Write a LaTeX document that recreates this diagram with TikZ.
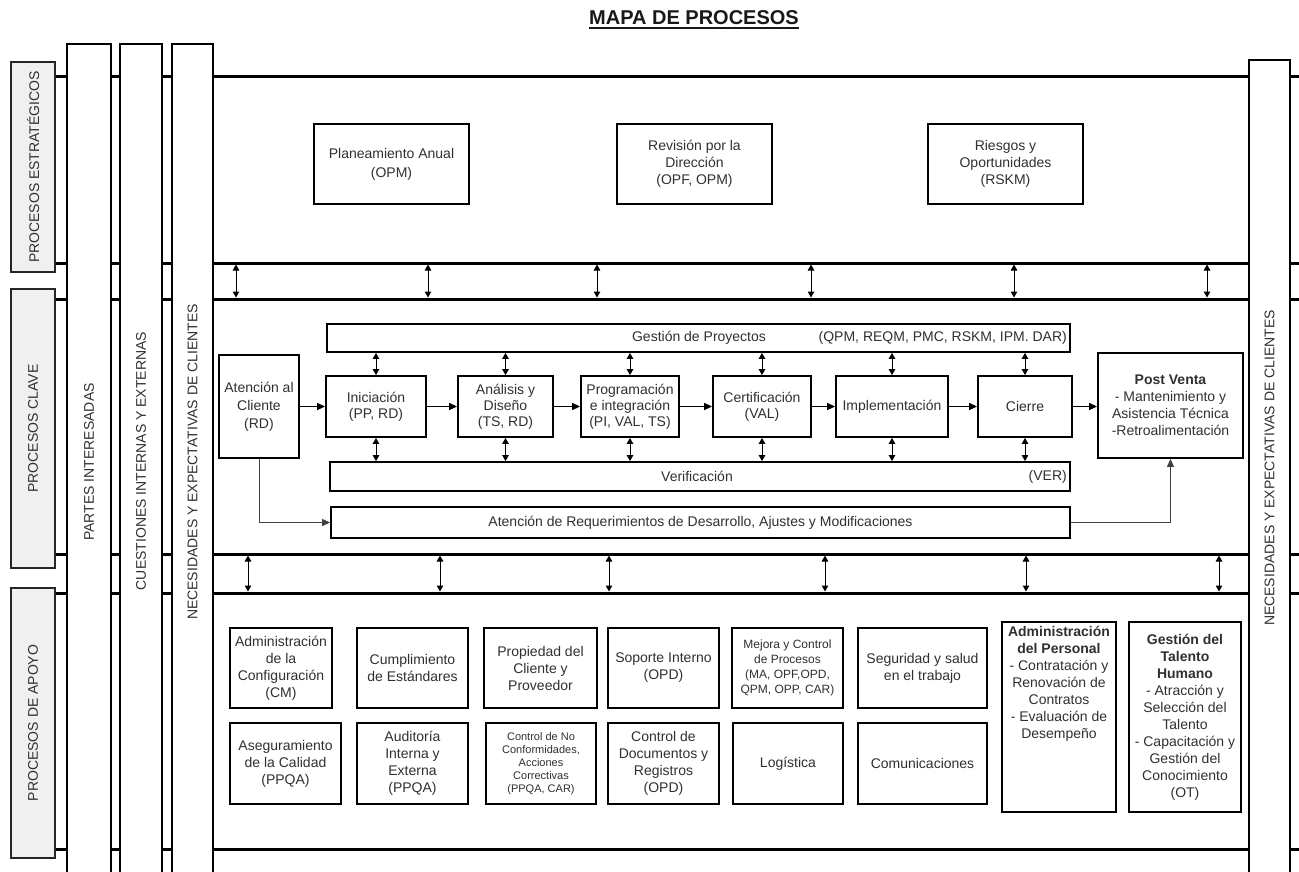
\documentclass[tikz,border=0pt]{standalone}
\usepackage{fontspec}
\setmainfont{Liberation Sans}
\usetikzlibrary{arrows.meta}
\definecolor{txt}{HTML}{303030}
\definecolor{lblfill}{HTML}{F0F0F0}
\newcommand\myfs[2]{\fontsize{#1}{#2}\selectfont}
\begin{document}
\begin{tikzpicture}[x=1pt,y=-1pt,
  thickline/.style={line width=3pt, draw=black},
  colbox/.style={draw=black, line width=1.5pt, fill=white},
  lab/.style={draw=black!85, line width=1.8pt, fill=lblfill, rotate=90, text=txt, font=\myfs{14}{17}, inner sep=0pt},
  vtext/.style={rotate=90, text=txt, font=\myfs{14}{17}, inner sep=0pt},
  box/.style={draw=black, line width=1.8pt, fill=white, align=center, text=txt, inner sep=1pt, font=\myfs{14}{17}},
  kbox/.style={box, font=\myfs{14}{16}},
  sbox/.style={box, font=\myfs{12}{15}},
  tbox/.style={box, font=\myfs{11}{13}},
  plain/.style={inner sep=0pt, text=txt, font=\myfs{14}{17}, align=center},
  dbl/.style={{Triangle[length=6pt,width=6.5pt]}-{Triangle[length=6pt,width=6.5pt]}, line width=1pt, draw=black},
  flow/.style={-{Triangle[length=8pt,width=7pt]}, line width=1.5pt, draw=black},
  thinflow/.style={-{Triangle[length=8pt,width=7pt]}, line width=1pt, draw=black!75},
]
\useasboundingbox (0,0) rectangle (1299,871);
\fill[white] (0,0) rectangle (1299,871);

% title
\node[inner sep=0pt, font=\bfseries\myfs{20}{24}, text=black!90] (title) at (694,18) {MAPA DE PROCESOS};
\draw[line width=1.6pt, black!90] ([yshift=-3pt]title.base west) -- ([yshift=-3pt]title.base east);

% thick horizontal lines
\foreach \yy [count=\i] in {76,263,299,554,593,849} {
  \coordinate (hla\i) at (55,\yy);
  \coordinate (hlb\i) at (1305,\yy);
  \draw[thickline] (hla\i) -- (hlb\i);
}

% vertical columns
\path[colbox] (67,880) -- (67,44) -- (111,44) -- (111,880);
\path[colbox] (120,880) -- (120,44) -- (162,44) -- (162,880);
\path[colbox] (172,880) -- (172,44) -- (213,44) -- (213,880);
\path[colbox] (1249,880) -- (1249,60) -- (1290,60) -- (1290,880);

\node[vtext] (cPI) at (89,462) {PARTES INTERESADAS};
\node[vtext] (cCI) at (141,461) {CUESTIONES INTERNAS Y EXTERNAS};
\node[vtext] (cNL) at (192.5,462) {NECESIDADES Y EXPECTATIVAS DE CLIENTES};
\node[vtext] (cNR) at (1269.5,468) {NECESIDADES Y EXPECTATIVAS DE CLIENTES};

% left label boxes
\node[lab, minimum width=210, minimum height=44] (lPE) at (33,167) {PROCESOS ESTRATÉGICOS};
\node[lab, minimum width=279, minimum height=44] (lPC) at (33,428.5) {PROCESOS CLAVE};
\node[lab, minimum width=270, minimum height=44] (lPA) at (33,723) {PROCESOS DE APOYO};

% gap arrows
\foreach \xx [count=\i] in {236,428,597,811,1014,1207} {
  \coordinate (ua\i) at (\xx,264.5);
  \coordinate (ub\i) at (\xx,297.5);
  \draw[dbl] (ua\i) -- (ub\i);
}
\foreach \xx [count=\i] in {248,440,609,825,1026,1219} {
  \coordinate (la\i) at (\xx,555.5);
  \coordinate (lb\i) at (\xx,591.5);
  \draw[dbl] (la\i) -- (lb\i);
}

% strategic processes
\node[box, font=\myfs{14}{19}, minimum width=155, minimum height=80] (plan) at (391.5,164) {Planeamiento Anual\\(OPM)};
\node[box, font=\myfs{14}{17}, minimum width=155, minimum height=80] (rev) at (694.5,164) {Revisión por la\\Dirección\\(OPF, OPM)};
\node[box, font=\myfs{14}{17}, minimum width=155, minimum height=80] (ries) at (1005.5,164) {Riesgos y\\Oportunidades\\(RSKM)};

% key processes
\node[box, minimum width=743, minimum height=28] (gest) at (698.5,338) {};
\node[plain] (gestT) at (699,338) {Gestión de Proyectos};
\node[plain, anchor=east] (gestC) at (1067,338) {(QPM, REQM, PMC, RSKM, IPM. DAR)};
\node[box, minimum width=740, minimum height=29] (veri) at (700,476.5) {};
\node[plain] (veriT) at (697,476.5) {Verificación};
\node[plain, anchor=east] (veriC) at (1067,476.5) {(VER)};
\node[box, minimum width=739, minimum height=31] (req) at (700.5,522.5) {Atención de Requerimientos de Desarrollo, Ajustes y Modificaciones};

\node[box, font=\myfs{14}{18}, minimum width=80, minimum height=103] (aten) at (259,406.5) {Atención al\\Cliente\\(RD)};
\node[kbox, minimum width=100, minimum height=61] (ini) at (376,406.5) {Iniciación\\(PP, RD)};
\node[kbox, minimum width=95, minimum height=61] (ana) at (505.5,406.5) {Análisis y\\Diseño\\(TS, RD)};
\node[kbox, minimum width=98, minimum height=61] (prog) at (630,406.5) {Programación\\e integración\\(PI, VAL, TS)};
\node[kbox, minimum width=98, minimum height=61] (cert) at (762,406.5) {Certificación\\(VAL)};
\node[kbox, minimum width=112, minimum height=61] (impl) at (892,406.5) {Implementación};
\node[kbox, minimum width=94, minimum height=61] (cier) at (1025,406.5) {Cierre};
\node[box, minimum width=145, minimum height=105] (post) at (1170.5,405.5) {\textbf{Post Venta}\\- Mantenimiento y\\Asistencia Técnica\\-Retroalimentación};

\draw[flow] (aten.east) -- (ini.west);
\draw[flow] (ini.east) -- (ana.west);
\draw[flow] (ana.east) -- (prog.west);
\draw[flow] (prog.east) -- (cert.west);
\draw[flow] (cert.east) -- (impl.west);
\draw[flow] (impl.east) -- (cier.west);
\draw[flow] (cier.east) -- (post.west |- cier.east);

\foreach \n in {ini,ana,prog,cert,impl,cier} {
  \draw[dbl] (\n.north |- gest.south) -- (\n.north);
  \draw[dbl] (\n.south) -- (\n.south |- veri.north);
}

\draw[thinflow] (aten.south) |- (req.west);
\draw[thinflow] (req.east) -| (post.south);

% support processes
\node[box, minimum width=102, minimum height=80] (s11) at (281,668) {Administración\\de la\\Configuración\\(CM)};
\node[box, minimum width=111, minimum height=80] (s12) at (412.5,668) {Cumplimiento\\de Estándares};
\node[box, minimum width=113, minimum height=80] (s13) at (540.5,668) {Propiedad del\\Cliente y\\Proveedor};
\node[box, minimum width=111, minimum height=80] (s14) at (663.5,668) {Soporte Interno\\(OPD)};
\node[sbox, minimum width=111, minimum height=80] (s15) at (787.5,668) {Mejora y Control\\de Procesos\\(MA, OPF,OPD,\\QPM, OPP, CAR)};
\node[box, minimum width=129, minimum height=80] (s16) at (922.5,668) {Seguridad y salud\\en el trabajo};

\node[box, minimum width=111, minimum height=81] (s21) at (285.5,763.5) {Aseguramiento\\de la Calidad\\(PPQA)};
\node[box, minimum width=111, minimum height=81] (s22) at (412.5,763.5) {Auditoría\\Interna y\\Externa\\(PPQA)};
\node[tbox, minimum width=110, minimum height=81] (s23) at (541,763.5) {Control de No\\Conformidades,\\Acciones\\Correctivas\\(PPQA, CAR)};
\node[box, minimum width=111, minimum height=81] (s24) at (663.5,763.5) {Control de\\Documentos y\\Registros\\(OPD)};
\node[box, minimum width=110, minimum height=81] (s25) at (788,763.5) {Logística};
\node[box, minimum width=129, minimum height=81] (s26) at (922.5,763.5) {Comunicaciones};

\node[box, minimum width=114, minimum height=190] (s17) at (1059,717) {};
\node[plain, anchor=north] (s17t) at ([yshift=-5pt]s17.north) {\textbf{Administración}\\\textbf{del Personal}\\- Contratación y\\Renovación de\\Contratos\\- Evaluación de\\Desempeño};
\node[box, inner sep=0pt, minimum width=112, minimum height=190] (s18) at (1185,717) {\textbf{Gestión del}\\\textbf{Talento}\\\textbf{Humano}\\- Atracción y\\Selección del\\Talento\\- Capacitación y\\Gestión del\\Conocimiento\\(OT)};
\end{tikzpicture}
\end{document}
